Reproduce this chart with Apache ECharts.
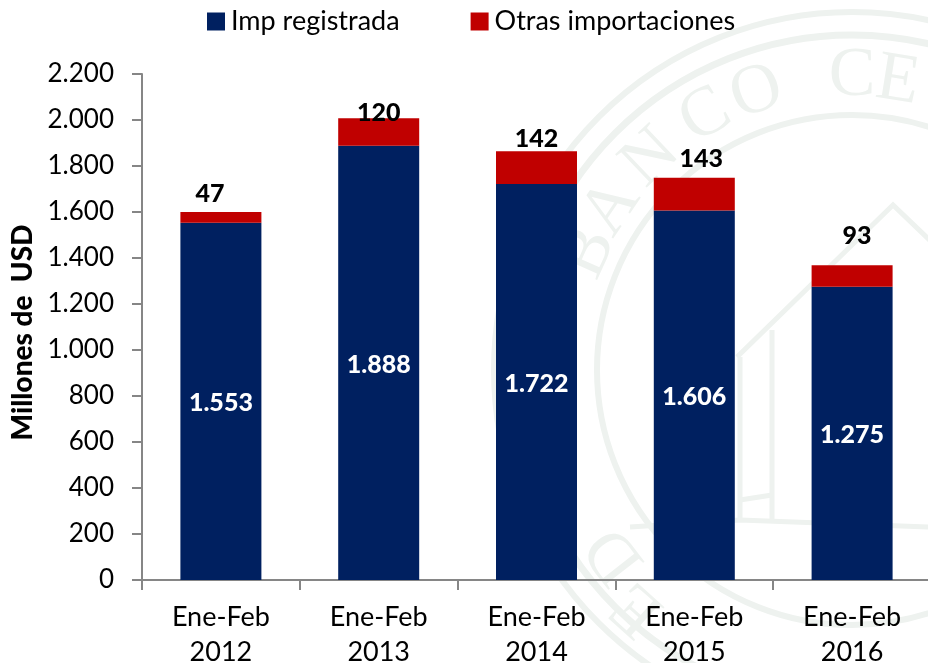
<!DOCTYPE html>
<html>
<head>
<meta charset="utf-8">
<style>html,body{margin:0;padding:0;background:#fff}#c{width:928px;height:663px}</style>
<script src="https://cdn.jsdelivr.net/npm/echarts@6/dist/echarts.min.js"></script>
</head>
<body>
<div id="c"></div>
<script>
const categories = ['Ene-Feb\n2012','Ene-Feb\n2013','Ene-Feb\n2014','Ene-Feb\n2015','Ene-Feb\n2016'];
const impRegistrada = [1553,1888,1722,1606,1275];
const otrasImportaciones = [47,120,142,143,93];
const otrasLabelShift = [[-11,-1],[0,12],[0,5],[7,-1],[5,-12]];
const sealColor = '#eef2ef';
const font = 'Lato';
const fmt = v => String(v).replace(/\B(?=(\d{3})+$)/g,'.');

const cx = 852, cy = 370;
const ring = (r,w) => ({type:'circle',z:-1,shape:{cx,cy,r},style:{fill:'none',stroke:sealColor,lineWidth:w}});
const seg = pts => ({type:'polyline',z:-1,shape:{points:pts},style:{fill:'none',stroke:sealColor,lineWidth:5}});
const sealLetters = [['B',-66,288],['A',-56,290],['N',-43.5,292],['C',-30,293],['O',-19,293],['C',0,293],['E',9,292],['D',-128,300],['E',-138,320]];
const letter = ([t,a,r]) => {
  const th = a*Math.PI/180;
  return {type:'text',z:-1,x:cx+r*Math.sin(th),y:cy-r*Math.cos(th),rotation:-th,
    style:{text:t,fill:sealColor,font:'70px "Liberation Serif"',align:'center',verticalAlign:'middle'}};
};

const chart = echarts.init(document.getElementById('c'),null,{renderer:'canvas'});
chart.setOption({
  animation:false,
  backgroundColor:'#fff',
  textStyle:{fontFamily:font},
  graphic:[
    ring(358,6),ring(335,7),ring(255,6),
    seg([[630,527],[740,520],[928,527]]),
    seg([[737,357],[893,205],[940,250]]),
    seg([[740,357],[740,520]]),seg([[772,330],[772,520]]),seg([[740,500],[772,495]]),
    ...sealLetters.map(letter)
  ],
  legend:{
    left:207,top:8,padding:0,icon:'rect',itemWidth:18,itemHeight:18,itemGap:71,
    textStyle:{fontSize:27,color:'#000',fontFamily:font,padding:[0,0,0,1]},
    data:['Imp registrada','Otras importaciones']
  },
  grid:{left:142,top:74,width:789,height:506,containLabel:false,outerBoundsMode:'none'},
  xAxis:{
    type:'category',data:categories,
    axisLine:{lineStyle:{color:'#868686',width:2}},
    axisTick:{show:true,length:10,alignWithLabel:false,lineStyle:{color:'#868686',width:2}},
    axisLabel:{color:'#000',fontSize:27,lineHeight:35,margin:20,interval:0,hideOverlap:false}
  },
  yAxis:{
    type:'value',min:0,max:2200,interval:200,
    name:'Millones de  USD',nameLocation:'middle',nameGap:101,nameRotate:90,
    nameTextStyle:{fontSize:28,fontWeight:900,color:'#000',fontFamily:font,padding:[0,11,0,0]},
    splitLine:{show:false},
    axisLine:{show:true,lineStyle:{color:'#868686',width:2}},
    axisTick:{show:true,length:10,lineStyle:{color:'#868686',width:2}},
    axisLabel:{color:'#000',fontSize:26,margin:28,formatter:fmt}
  },
  series:[
    {name:'Imp registrada',type:'bar',stack:'t',barWidth:81,data:impRegistrada,
     itemStyle:{color:'#002060'},
     label:{show:true,position:'inside',offset:[0,2],color:'#fff',fontSize:25,fontWeight:900,fontFamily:font,formatter:p=>fmt(p.value)}},
    {name:'Otras importaciones',type:'bar',stack:'t',barWidth:81,
     data:otrasImportaciones.map((v,i)=>({value:v,label:{offset:otrasLabelShift[i]}})),
     itemStyle:{color:'#c00000'},
     label:{show:true,position:'top',color:'#000',fontSize:25,fontWeight:900,fontFamily:font}}
  ]
});
</script>
</body>
</html>
